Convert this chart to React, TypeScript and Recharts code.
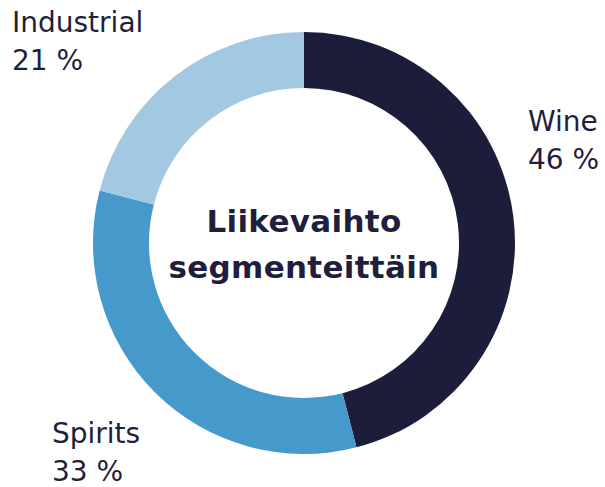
import React from 'react';
import { PieChart, Pie, Cell } from 'recharts';

const segments = ['Wine', 'Spirits', 'Industrial'];
const shares = [46, 33, 21];
const colors = ['#1c1d3a', '#4599cb', '#a3c8e2'];
const centerLines = ['Liikevaihto', 'segmenteittäin'];

const data = segments.map((name, i) => ({ name, value: shares[i] }));

// where each label sits relative to the pie centre
const labelOffsets: Record<string, { dx: number; dy: number }> = {
    Wine: { dx: 224, dy: -112 },
    Spirits: { dx: -252, dy: 200 },
    Industrial: { dx: -292, dy: -211 },
};

const textColor = '#1f1f3d';
const font = '"DejaVu Sans", sans-serif';

const renderLabel = (props: any) => {
    const { cx, cy, name, value } = props;
    const off = labelOffsets[name];
    const x = cx + off.dx;
    const y = cy + off.dy;
    return (
        <text x={x} y={y} fill={textColor} fontSize={28} fontFamily={font}>
            <tspan x={x} y={y}>{name}</tspan>
            <tspan x={x} y={y + 38}>{value} %</tspan>
        </text>
    );
};

const App = () => {
    return (
        <div style={{ position: 'absolute', left: 0, top: 0, width: 605, height: 487, background: '#fff' }}>
            <PieChart width={605} height={487} margin={{ top: 0, right: 0, bottom: 0, left: 0 }}>
                <Pie
                    data={data}
                    dataKey="value"
                    nameKey="name"
                    cx={304}
                    cy={243}
                    innerRadius={155}
                    outerRadius={211}
                    startAngle={90}
                    endAngle={-270}
                    stroke="none"
                    label={renderLabel}
                    labelLine={false}
                    isAnimationActive={false}
                >
                    {data.map((d, i) => (
                        <Cell key={d.name} fill={colors[i]} />
                    ))}
                </Pie>
                {centerLines.map((line, i) => (
                    <text
                        key={line}
                        x={304}
                        y={232 + i * 46}
                        textAnchor="middle"
                        fill={textColor}
                        fontSize={31}
                        fontWeight={700}
                        fontFamily={font}
                        letterSpacing={0.3}
                    >
                        {line}
                    </text>
                ))}
            </PieChart>
        </div>
    );
};

export default App;
